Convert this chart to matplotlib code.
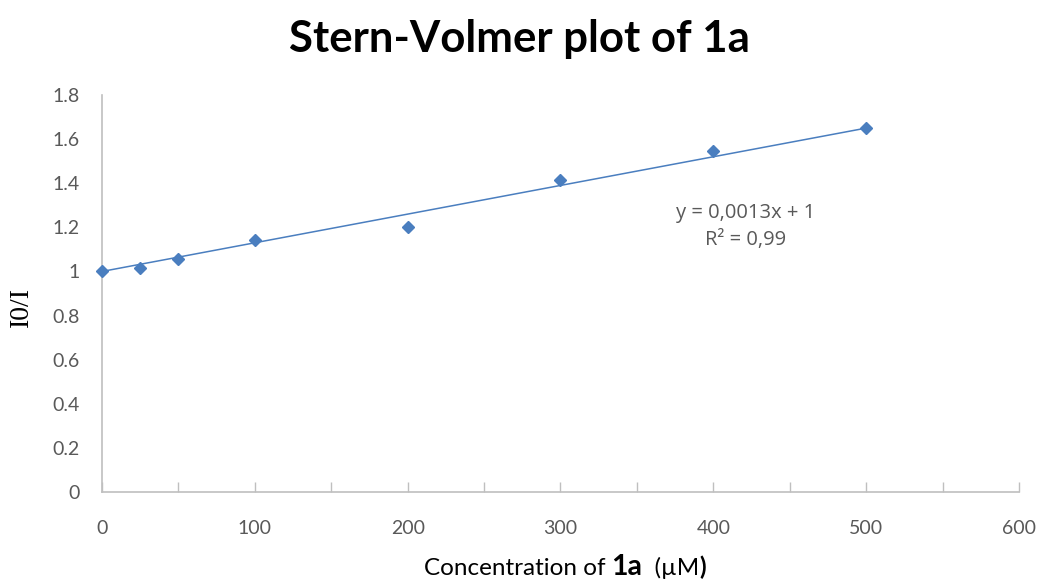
import matplotlib
matplotlib.use("Agg")
import matplotlib.pyplot as plt
import numpy as np

# Quencher concentration (µM) and intensity ratio I0/I
conc = [0, 25, 50, 100, 200, 300, 400, 500]
ratio = [1.0, 1.015, 1.057, 1.143, 1.200, 1.414, 1.545, 1.652]

# Linear trend line reported for the data
slope = 0.0013
intercept = 1.0
r2_label = "0,99"

xticks = [0, 100, 200, 300, 400, 500, 600]
yticks = [0, 0.2, 0.4, 0.6, 0.8, 1.0, 1.2, 1.4, 1.6, 1.8]

blue = "#4A7EBF"
grey_txt = "#595959"
spine = "#BFBFBF"
sans = ["Lato", "DejaVu Sans"]

fig = plt.figure(figsize=(10.39, 5.8), dpi=100)
ax = fig.add_axes([0.0982, 0.1517, 0.8825, 0.6845])

fit_x = np.array([min(conc), max(conc)])
ax.plot(fit_x, slope * fit_x + intercept, color=blue, lw=1.1, zorder=2)
ax.plot(conc, ratio, linestyle="none", marker="D", markersize=6.5,
        color=blue, zorder=3, clip_on=False)

ax.set_xlim(0, 600)
ax.set_ylim(0, 1.8)
ax.set_xticks(xticks)
ax.set_xticks(np.arange(50, 600, 100), minor=True)
ax.set_yticks(yticks)
ax.set_xticklabels([str(t) for t in xticks])
ax.set_yticklabels(["0" if t == 0 else ("1" if t == 1 else f"{t:.1f}") for t in yticks])

for side in ("top", "right"):
    ax.spines[side].set_visible(False)
for side in ("left", "bottom"):
    ax.spines[side].set_color(spine)
    ax.spines[side].set_linewidth(1.2)

ax.tick_params(axis="x", which="both", direction="in", length=7, color=spine,
               width=1, labelsize=14, labelcolor=grey_txt, pad=20)
ax.tick_params(axis="y", length=0, labelsize=14, labelcolor=grey_txt, pad=16)
for lab in ax.get_xticklabels() + ax.get_yticklabels():
    lab.set_family(sans)

fig.text(0.5, 0.932, "Stern-Volmer plot of 1a", ha="center", va="center",
         fontsize=31.5, fontweight="bold", family=sans, color="black")

# x-axis title built from pieces so that "1a" can be bold and larger
fig.canvas.draw()
renderer = fig.canvas.get_renderer()
ypos = 0.008
parts = [("Concentration of ", 17.5, "normal"), ("1a", 20.5, "bold"),
         ("  (µM", 17.5, "normal"), (")", 17.5, "bold")]
texts = [fig.text(0, ypos, s, ha="left", va="baseline", fontsize=fs,
                  fontweight=fw, family=sans, color="black")
         for s, fs, fw in parts]
widths = [t.get_window_extent(renderer).width for t in texts]
total = sum(widths)
x0 = 565 - total / 2
for t, w in zip(texts, widths):
    t.set_x(x0 / fig.bbox.width)
    x0 += w

fig.text(0.021, 0.47, "I0/I", rotation=90, ha="center", va="center",
         fontsize=20, family=["Liberation Serif", "DejaVu Serif"], color="black")

ann = ["Open Sans", "DejaVu Sans"]
ax.text(421, 1.265, f"y = {str(slope).replace('.', ',')}x + {intercept:g}",
        ha="center", va="center", fontsize=14.5, family=ann, color=grey_txt)
ax.text(421, 1.143, f"R² = {r2_label}",
        ha="center", va="center", fontsize=14.5, family=ann, color=grey_txt)

fig.savefig("out.png", dpi=100)
